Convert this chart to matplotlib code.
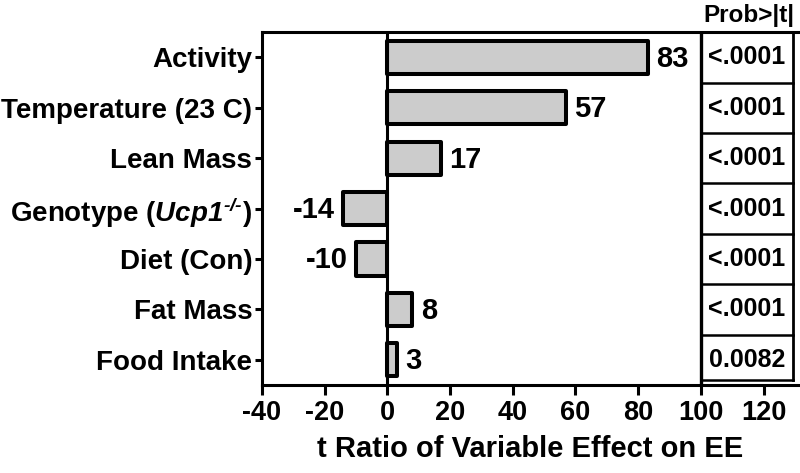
import matplotlib
matplotlib.use("Agg")
import matplotlib.pyplot as plt

# Data
variables = ["Activity", "Temperature (23 C)", "Lean Mass",
             r"Genotype ($\mathrm{Ucp1}^{\text{-/-}}$)", "Diet (Con)",
             "Fat Mass", "Food Intake"]
t_ratios = [83, 57, 17, -14, -10, 8, 3]
p_values = ["<.0001", "<.0001", "<.0001", "<.0001", "<.0001", "<.0001", "0.0082"]
x_ticks = [-40, -20, 0, 20, 40, 60, 80, 100, 120]

plt.rcParams["font.family"] = ["Liberation Sans", "DejaVu Sans"]
plt.rcParams["font.weight"] = "bold"
plt.rcParams["mathtext.fontset"] = "custom"
plt.rcParams["mathtext.rm"] = "Liberation Sans:bold:italic"
plt.rcParams["mathtext.it"] = "Liberation Sans:bold:italic"
plt.rcParams["mathtext.bf"] = "Liberation Sans:bold"

fig = plt.figure(figsize=(8, 4.73), dpi=100)
ax = fig.add_axes([0.3275, 0.186, 0.67, 0.746])

pos = list(range(len(variables)))
bars = ax.barh(pos, t_ratios, height=0.66, color="#cccccc",
               edgecolor="black", linewidth=2.9, zorder=3)
for b in bars:
    b.set_joinstyle("round")

for y, v in zip(pos, t_ratios):
    if v >= 0:
        ax.annotate(str(v), (v, y), xytext=(6, -1), textcoords="offset points",
                    ha="left", va="center", fontsize=21, fontweight="bold")
    else:
        ax.annotate(str(v), (v, y), xytext=(-6, -1), textcoords="offset points",
                    ha="right", va="center", fontsize=21, fontweight="bold")

ax.set_xlim(-40, 131)
ax.set_ylim(len(variables) - 0.5, -0.5)

# zero line and table border
ax.axvline(0, color="black", lw=2.2, zorder=4)
ax.axvline(100, color="black", lw=2.4, zorder=4)
x_right = 129.4
ax.plot([x_right, x_right], [-0.5, 6.4], color="black", lw=2.0, clip_on=False)
for k in range(len(variables) - 1):
    ax.plot([100, x_right], [k + 0.5, k + 0.5], color="black", lw=1.8)
ax.plot([100, x_right], [6.4, 6.4], color="black", lw=1.8)
for y, p in zip(pos, p_values):
    ax.text((100 + x_right) / 2, y, p, ha="center", va="center",
            fontsize=18, fontweight="bold")
ax.text(x_right + 0.5, -0.6, "Prob>|t|", ha="right", va="bottom",
        fontsize=17.5, fontweight="bold")

ax.set_yticks(pos)
ax.set_yticklabels(variables, fontsize=20, fontweight="bold")
ax.set_xticks(x_ticks)
ax.set_xticklabels([str(t) for t in x_ticks], fontsize=19.5, fontweight="bold")
ax.set_xlabel("t Ratio of Variable Effect on EE", fontsize=21,
              fontweight="bold", labelpad=6)

ax.tick_params(axis="y", length=5, width=2.2, pad=2)
ax.tick_params(axis="x", length=7, width=2.2, pad=4)
ax.spines["right"].set_visible(False)
for s in ["left", "top", "bottom"]:
    ax.spines[s].set_linewidth(2.2)

fig.savefig("out.png", dpi=100)
